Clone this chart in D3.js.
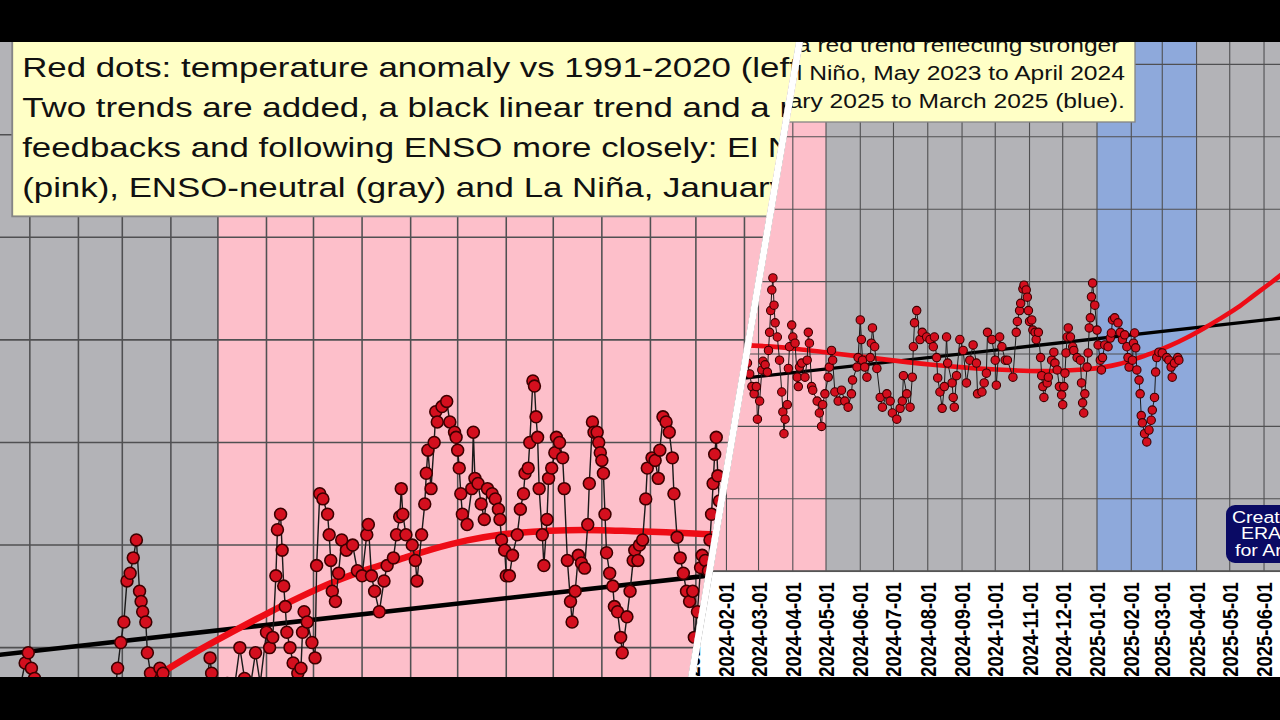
<!DOCTYPE html>
<html>
<head>
<meta charset="utf-8">
<script src="https://cdn.jsdelivr.net/npm/d3@7"></script>
<style>
  html, body { margin: 0; padding: 0; background: #000; }
  svg { display: block; }
</style>
</head>
<body>
<div id="chart"></div>
<script>
var svgWidth = 1280;
var svgHeight = 720;

// ENSO phases shown as background bands
var ensoStart = ["2022-11-01", "2023-05-01", "2024-05-01", "2025-01-01", "2025-04-01"];
var ensoEnd   = ["2023-05-01", "2024-05-01", "2025-01-01", "2025-04-01", "2025-08-01"];
var ensoPhase = ["neutral", "elnino", "neutral", "lanina", "neutral"];

// monthly grid / tick labels
var monthTicks = [
  "2022-11-01", "2022-12-01", "2023-01-01", "2023-02-01", "2023-03-01", "2023-04-01",
  "2023-05-01", "2023-06-01", "2023-07-01", "2023-08-01", "2023-09-01", "2023-10-01",
  "2023-11-01", "2023-12-01", "2024-01-01", "2024-02-01", "2024-03-01", "2024-04-01",
  "2024-05-01", "2024-06-01", "2024-07-01", "2024-08-01", "2024-09-01", "2024-10-01",
  "2024-11-01", "2024-12-01", "2025-01-01", "2025-02-01", "2025-03-01", "2025-04-01",
  "2025-05-01", "2025-06-01", "2025-07-01", "2025-08-01"
];
var gridValues = [0, 0.2, 0.4, 0.6, 0.8, 1.0, 1.2, 1.4, 1.6];

// daily anomaly (°C vs 1991-2020), [days since dayZero, value]
var dayZero = "2023-05-01";
var dailyAnomaly = [
  [-139,0.30],[-133,0.28],[-127,0.31],[-123,0.37],[-121,0.39],[-119,0.36],[-117,0.34],[-113,0.29],
  [-107,0.27],[-101,0.30],[-95,0.28],[-89,0.25],[-83,0.29],[-77,0.31],[-71,0.27],[-66,0.30],
  [-64,0.36],[-62,0.41],[-60,0.45],[-58,0.53],[-56,0.545],[-54,0.575],[-52,0.61],[-50,0.51],
  [-49,0.49],[-48,0.47],[-46,0.45],[-45,0.39],[-43,0.35],[-41,0.31],[-39,0.33],[-37,0.36],
  [-35,0.35],[-32,0.30],[-28,0.27],[-24,0.30],[-20,0.28],[-16,0.31],[-12,0.29],[-8,0.32],
  [-5,0.38],[-4,0.35],[-1,0.32],[2,0.30],[6,0.33],[10,0.31],[14,0.40],[17,0.34],[20,0.31],
  [24,0.39],[27,0.33],[31,0.43],[33,0.40],[35,0.42],[37,0.54],[38,0.63],[40,0.66],[41,0.59],
  [42,0.52],[43,0.48],[44,0.43],[46,0.40],[48,0.37],[51,0.35],[53,0.36],[54,0.43],[55,0.47],
  [57,0.45],[60,0.41],[62,0.38],[63,0.56],[65,0.70],[67,0.69],[70,0.66],[71,0.62],[72,0.57],
  [73,0.51],[75,0.49],[77,0.545],[79,0.61],[82,0.59],[86,0.60],[89,0.55],[92,0.54],[95,0.62],
  [96,0.64],[98,0.54],[100,0.51],[103,0.47],[106,0.53],[108,0.56],[112,0.575],[114,0.62],
  [116,0.655],[117,0.71],[118,0.66],[120,0.62],[124,0.60],[126,0.57],[127,0.53],[130,0.62],
  [132,0.68],[133,0.74],[134,0.785],[136,0.71],[138,0.80],[139,0.86],[140,0.84],[143,0.87],
  [146,0.88],[148,0.84],[151,0.82],[152,0.81],[153,0.785],[154,0.75],[155,0.70],[156,0.66],
  [159,0.64],[162,0.71],[163,0.82],[164,0.73],[166,0.72],[168,0.68],[170,0.65],[172,0.71],
  [175,0.70],[177,0.69],[179,0.67],[180,0.65],[181,0.61],[183,0.59],[184,0.54],[186,0.54],
  [188,0.58],[191,0.62],[193,0.67],[195,0.70],[196,0.74],[198,0.75],[199,0.80],[201,0.92],
  [202,0.91],[203,0.85],[204,0.81],[205,0.71],[207,0.62],[208,0.56],[210,0.65],[211,0.73],
  [213,0.75],[215,0.78],[216,0.81],[218,0.80],[220,0.77],[221,0.71],[223,0.57],[225,0.49],
  [226,0.45],[228,0.51],[230,0.58],[232,0.565],[234,0.555],[236,0.64],[237,0.72],[239,0.84],
  [240,0.82],[242,0.82],[243,0.80],[244,0.78],[245,0.765],[246,0.74],[247,0.66],[248,0.585],
  [250,0.545],[252,0.52],[253,0.48],[255,0.47],[257,0.42],[258,0.39],[261,0.46],[263,0.51],
  [265,0.57],[266,0.59],[268,0.57],[269,0.60],[271,0.61],[273,0.69],[274,0.75],[277,0.77],
  [279,0.765],[281,0.73],[282,0.785],[284,0.85],[286,0.84],[288,0.82],[290,0.77],[291,0.70],
  [293,0.615],[295,0.575],[297,0.545],[299,0.51],[301,0.49],[303,0.51],[304,0.42],[306,0.47],
  [308,0.556],[309,0.58],[311,0.57],[313,0.55],[314,0.61],[315,0.66],[316,0.72],[317,0.777],
  [318,0.81],[319,0.735],[320,0.686],[322,0.647],[324,0.583],[326,0.495],[327,0.44],[328,0.38],
  [329,0.42],[331,0.46],[332,0.56],[333,0.62],[335,0.68],[336,0.647],[338,0.63],[340,0.536],
  [341,0.51],[342,0.564],[344,0.575],[347,0.536],[349,0.583],[350,0.66],[351,0.63],[353,0.51],
  [354,0.50],[358,0.47],[360,0.437],[362,0.40],[363,0.46],[365,0.49],[368,0.536],[369,0.564],
  [371,0.61],[372,0.583],[374,0.495],[377,0.47],[380,0.50],[383,0.47],[386,0.453],[389,0.49],
  [390,0.528],[394,0.564],[395,0.59],[397,0.694],[398,0.64],[399,0.583],[401,0.564],[403,0.536],
  [406,0.59],[407,0.63],[408,0.672],[410,0.62],[412,0.56],[415,0.48],[417,0.453],[421,0.49],
  [424,0.47],[426,0.437],[430,0.42],[433,0.45],[435,0.47],[436,0.54],[439,0.49],[442,0.453],
  [444,0.536],[445,0.62],[446,0.686],[448,0.72],[451,0.64],[453,0.66],[457,0.647],[460,0.64],
  [463,0.62],[464,0.647],[466,0.59],[467,0.534],[469,0.495],[471,0.45],[473,0.51],[475,0.647],
  [476,0.575],[480,0.52],[481,0.48],[482,0.453],[484,0.54],[487,0.64],[490,0.61],[493,0.52],
  [496,0.583],[499,0.625],[502,0.575],[503,0.49],[507,0.495],[509,0.52],[511,0.547],[512,0.66],
  [516,0.64],[519,0.583],[520,0.514],[523,0.647],[525,0.62],[528,0.583],[530,0.583],[535,0.536],
  [538,0.66],[539,0.69],[541,0.72],[542,0.74],[544,0.78],[545,0.79],[547,0.777],[548,0.757],
  [549,0.72],[550,0.69],[552,0.694],[553,0.666],[555,0.66],[556,0.64],[558,0.66],[560,0.59],
  [561,0.54],[562,0.51],[563,0.48],[566,0.52],[567,0.536],[570,0.583],[572,0.605],[573,0.575],
  [575,0.556],[577,0.51],[579,0.487],[580,0.46],[581,0.51],[582,0.547],[583,0.603],[584,0.647],
  [585,0.672],[587,0.647],[589,0.62],[590,0.61],[593,0.59],[596,0.583],[597,0.52],[598,0.465],
  [599,0.437],[600,0.49],[602,0.564],[603,0.603],[604,0.672],[605,0.70],[606,0.758],[607,0.796],
  [609,0.735],[611,0.666],[612,0.625],[614,0.583],[615,0.556],[616,0.59],[618,0.625],[621,0.62],
  [623,0.644],[624,0.658],[625,0.694],[627,0.70],[630,0.686],[632,0.66],[634,0.64],[636,0.653],
  [638,0.62],[639,0.59],[640,0.564],[643,0.583],[644,0.63],[645,0.658],[646,0.617],[647,0.556],
  [649,0.528],[650,0.49],[651,0.43],[652,0.41],[654,0.38],[656,0.357],[658,0.39],[660,0.417],
  [661,0.445],[663,0.48],[664,0.55],[665,0.59],[667,0.605],[670,0.603],[674,0.59],[676,0.583],
  [678,0.564],[679,0.536],[681,0.575],[684,0.59],[685,0.583]
];

// red trend (ENSO-following) and black linear trend
var redTrend = [
  [-60,0.305],[-40,0.343],[-12,0.395],[10,0.432],[31,0.466],[52,0.498],[73,0.527],[95,0.552],
  [116,0.572],[137,0.592],[159,0.609],[180,0.62],[201,0.626],[223,0.629],[244,0.629],
  [265,0.627],[286,0.625],[314,0.621],[340,0.614],[370,0.603],[400,0.592],[430,0.581],
  [460,0.571],[490,0.563],[520,0.557],[550,0.553],[571,0.553],[602,0.558],[616,0.563],
  [632,0.573],[647,0.588],[662,0.604],[677,0.623],[692,0.645],[707,0.67],[722,0.697],
  [738,0.728],[752,0.76],[767,0.794],[776,0.815],[800,0.875]
];
var blackTrend = [[-151,0.382],[792,0.704]];

var boxLines = [
  "Red dots: temperature anomaly vs 1991-2020 (left axis).",
  "Two trends are added, a black linear trend and a red trend reflecting stronger",
  "feedbacks and following ENSO more closely: El Niño, May 2023 to April 2024",
  "(pink), ENSO-neutral (gray) and La Niña, January 2025 to March 2025 (blue)."
];
var badgeLines = ["Created with", "ERA5 data", "for Arctic-news"];

var phaseColor = { neutral: "#b3b3b7", elnino: "#fdbfca", lanina: "#8ea9db" };
var fontFamily = "'Liberation Sans', Arial, sans-serif";
var stretch = 1.23;

var parseDate = d3.utcParse("%Y-%m-%d");
var day0 = parseDate(dayZero);
function toDate(day) { return d3.utcDay.offset(day0, day); }

// base scales (the right-hand, less zoomed view)
var x = d3.scaleUtc()
  .domain([parseDate("2024-05-01"), parseDate("2025-01-01")])
  .range([826, 1097]);
var y = d3.scaleLinear()
  .domain([0, 0.6])
  .range([571.2, 354]);

var svg = d3.select("#chart")
  .append("svg")
  .attr("width", svgWidth)
  .attr("height", svgHeight)
  .style("background", "#000");
var defs = svg.append("defs");

// the two views are split by a slanted white cut
var yTop = 42, yBottom = 677, gap = 7;
function cutX(yy) { return 796 - 0.170 * (yy - 42); }

var panels = [
  { id: "viewLeft", t: d3.zoomIdentity.translate(-378.8, 43.5).scale(1.4168),
    clip: [[0, yTop], [cutX(yTop), yTop], [cutX(yBottom), yBottom], [0, yBottom]] },
  { id: "viewRight", t: d3.zoomIdentity,
    clip: [[cutX(yTop) + gap, yTop], [svgWidth, yTop], [svgWidth, yBottom], [cutX(yBottom) + gap, yBottom]] }
];

function drawChart(g) {
  var xMin = parseDate(ensoStart[0]);
  var xMax = parseDate(ensoEnd[ensoEnd.length - 1]);
  var plotTop = y(1.7), plotBottom = y(0);

  // ENSO bands
  g.selectAll(".band")
    .data(ensoPhase)
    .enter()
    .append("rect")
    .attr("x", (d, i) => x(parseDate(ensoStart[i])))
    .attr("width", (d, i) => x(parseDate(ensoEnd[i])) - x(parseDate(ensoStart[i])))
    .attr("y", plotTop)
    .attr("height", plotBottom - plotTop)
    .attr("fill", d => phaseColor[d]);

  // grid
  g.selectAll(".vgrid")
    .data(monthTicks)
    .enter()
    .append("line")
    .attr("x1", d => x(parseDate(d)))
    .attr("x2", d => x(parseDate(d)))
    .attr("y1", plotTop)
    .attr("y2", plotBottom)
    .attr("stroke", "#505052")
    .attr("stroke-width", 1.1);

  g.selectAll(".hgrid")
    .data(gridValues)
    .enter()
    .append("line")
    .attr("x1", x(xMin))
    .attr("x2", x(xMax))
    .attr("y1", d => y(d))
    .attr("y2", d => y(d))
    .attr("stroke", "#505052")
    .attr("stroke-width", 1.1);

  g.append("line")
    .attr("x1", x(xMin)).attr("x2", x(xMax))
    .attr("y1", plotBottom).attr("y2", plotBottom)
    .attr("stroke", "#555")
    .attr("stroke-width", 2);

  // trends
  var straight = d3.line()
    .x(d => x(toDate(d[0])))
    .y(d => y(d[1]));
  var smooth = d3.line()
    .x(d => x(toDate(d[0])))
    .y(d => y(d[1]))
    .curve(d3.curveCatmullRom.alpha(0.5));

  g.append("path")
    .datum(blackTrend)
    .attr("d", straight)
    .attr("fill", "none")
    .attr("stroke", "#000")
    .attr("stroke-width", 3.3);

  g.append("path")
    .datum(redTrend)
    .attr("d", smooth)
    .attr("fill", "none")
    .attr("stroke", "#ee0c16")
    .attr("stroke-width", 4.6);

  // daily data
  g.append("path")
    .datum(dailyAnomaly)
    .attr("d", straight)
    .attr("fill", "none")
    .attr("stroke", "#1a1a1a")
    .attr("stroke-width", 1);

  g.selectAll(".dot")
    .data(dailyAnomaly)
    .enter()
    .append("circle")
    .attr("cx", d => x(toDate(d[0])))
    .attr("cy", d => y(d[1]))
    .attr("r", 4.2)
    .attr("fill", "#d40f1e")
    .attr("stroke", "#3c0000")
    .attr("stroke-width", 1.1);

  // white strip under the axis with rotated date labels
  g.append("rect")
    .attr("x", x(xMin))
    .attr("y", plotBottom + 1)
    .attr("width", x(xMax) - x(xMin))
    .attr("height", 200)
    .attr("fill", "#fff");

  g.selectAll(".tick-label")
    .data(monthTicks)
    .enter()
    .append("text")
    .attr("transform", d => `translate(${x(parseDate(d))}, ${plotBottom + 11}) scale(1.2, 1) rotate(-90)`)
    .attr("text-anchor", "end")
    .attr("dy", "0.36em")
    .style("font", `bold 18.5px ${fontFamily}`)
    .attr("fill", "#000")
    .text(d => d);

  // explanation box
  g.append("rect")
    .attr("x", 276)
    .attr("y", -2)
    .attr("width", 859)
    .attr("height", 124)
    .attr("fill", "#ffffc6")
    .attr("stroke", "#858585")
    .attr("stroke-width", 1.3);

  g.selectAll(".box-line")
    .data(boxLines)
    .enter()
    .append("text")
    .attr("transform", (d, i) => `translate(283, ${23.6 + i * 28.2}) scale(${stretch}, 1)`)
    .style("font", `20px ${fontFamily}`)
    .attr("fill", "#111")
    .text(d => d);

  // credit badge
  g.append("rect")
    .attr("x", 1226)
    .attr("y", 505)
    .attr("width", 160)
    .attr("height", 58)
    .attr("rx", 9)
    .attr("fill", "#0a0a64");

  var badgeX = [1232, 1241, 1235];
  g.selectAll(".badge-line")
    .data(badgeLines)
    .enter()
    .append("text")
    .attr("transform", (d, i) => `translate(${badgeX[i]}, ${522.5 + i * 16.5}) scale(1.15, 1)`)
    .style("font", `17px ${fontFamily}`)
    .attr("fill", "#fff")
    .text(d => d);
}

panels.forEach(function(p) {
  defs.append("clipPath")
    .attr("id", p.id)
    .append("polygon")
    .attr("points", p.clip.map(c => c.join(",")).join(" "));

  var g = svg.append("g").attr("clip-path", `url(#${p.id})`);
  g.append("rect")
    .attr("width", svgWidth)
    .attr("height", svgHeight)
    .attr("fill", "#fff");

  var view = g.append("g").attr("transform", p.t.toString());
  drawChart(view);
});

// white cut between the two views
svg.append("polygon")
  .attr("points", [[cutX(yTop), yTop], [cutX(yTop) + gap, yTop], [cutX(yBottom) + gap, yBottom], [cutX(yBottom), yBottom]]
    .map(c => c.join(",")).join(" "))
  .attr("fill", "#fff");

// letterbox bars
svg.append("rect").attr("x", 0).attr("y", 0).attr("width", svgWidth).attr("height", yTop).attr("fill", "#000");
svg.append("rect").attr("x", 0).attr("y", yBottom).attr("width", svgWidth).attr("height", svgHeight - yBottom).attr("fill", "#000");
</script>
</body>
</html>
